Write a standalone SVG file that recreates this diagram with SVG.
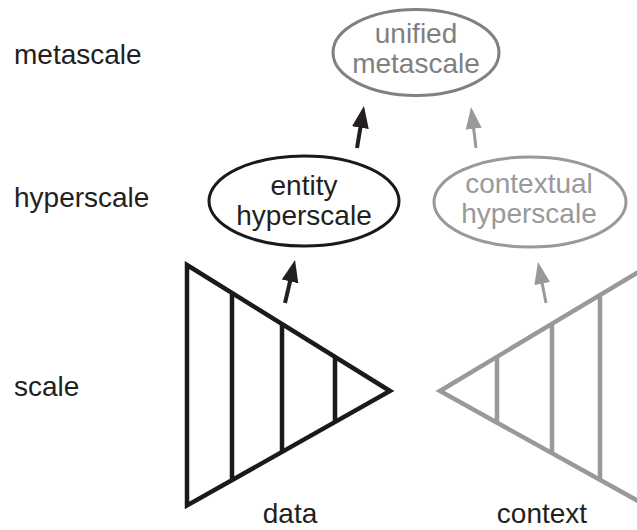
<svg xmlns="http://www.w3.org/2000/svg" width="637" height="530" viewBox="0 0 637 530">
<defs>
<style>
text{font-family:"Liberation Sans",Arial,sans-serif;font-size:28px;}
.blk{fill:#231f20;}
.g1{fill:#808080;}
.g2{fill:#999999;}
.tri{fill:none;stroke-width:4.5;stroke-linejoin:miter;stroke-linecap:butt;}
.ell{fill:none;stroke-width:3;}
</style>
<marker id="ahB" viewBox="0 -9 22 18" refX="10" refY="0" markerWidth="22" markerHeight="18" markerUnits="userSpaceOnUse" orient="auto">
<path d="M0,-8.5 L22,0 L0,8.5 z" fill="#231f20"/>
</marker>
<marker id="ahG" viewBox="0 -9 22 18" refX="10" refY="0" markerWidth="22" markerHeight="18" markerUnits="userSpaceOnUse" orient="auto">
<path d="M0,-8 L22,0 L0,8 z" fill="#999999"/>
</marker>
</defs>
<rect width="637" height="530" fill="#ffffff"/>
<g id="levels">
<text class="blk" x="14" y="64">metascale</text>
<text class="blk" x="14" y="207">hyperscale</text>
<text class="blk" x="14" y="396">scale</text>
</g>
<g id="data">
<path class="tri" stroke="#1a1a1a" d="M187,265 L390,391 L187,505.5 Z M232,293 V480 M282,324 V451.7 M335,357 V421.7"/>
<text class="blk" x="290" y="523" text-anchor="middle">data</text>
</g>
<g id="context">
<path class="tri" stroke="#999999" d="M650,265 L440,391 L650,507.6 M497,356.7 V423 M552,325 V451.7 M600,295 V480"/>
<text class="blk" x="542" y="523" text-anchor="middle">context</text>
</g>
<g id="entity">
<ellipse class="ell" stroke="#1a1a1a" cx="304" cy="201" rx="95" ry="45"/>
<text class="blk" x="304" y="195" text-anchor="middle">entity</text>
<text class="blk" x="304" y="225" text-anchor="middle">hyperscale</text>
</g>
<g id="contextual">
<ellipse class="ell" stroke="#999999" cx="530" cy="202" rx="96" ry="45"/>
<text class="g2" x="529" y="193" text-anchor="middle">contextual</text>
<text class="g2" x="529" y="223" text-anchor="middle">hyperscale</text>
</g>
<g id="unified">
<ellipse class="ell" stroke="#808080" cx="416" cy="52.5" rx="83" ry="43"/>
<text class="g1" x="416" y="43" text-anchor="middle">unified</text>
<text class="g1" x="416" y="73" text-anchor="middle">metascale</text>
</g>
<g id="connectors">
<line x1="285" y1="303" x2="292.3" y2="271.7" stroke="#231f20" stroke-width="4" marker-end="url(#ahB)"/>
<line x1="357" y1="148" x2="362" y2="117.8" stroke="#231f20" stroke-width="4" marker-end="url(#ahB)"/>
<line x1="476" y1="148" x2="472.5" y2="118.9" stroke="#999999" stroke-width="3" marker-end="url(#ahG)"/>
<line x1="546" y1="303" x2="540.3" y2="273.8" stroke="#999999" stroke-width="3" marker-end="url(#ahG)"/>
</g>
</svg>
